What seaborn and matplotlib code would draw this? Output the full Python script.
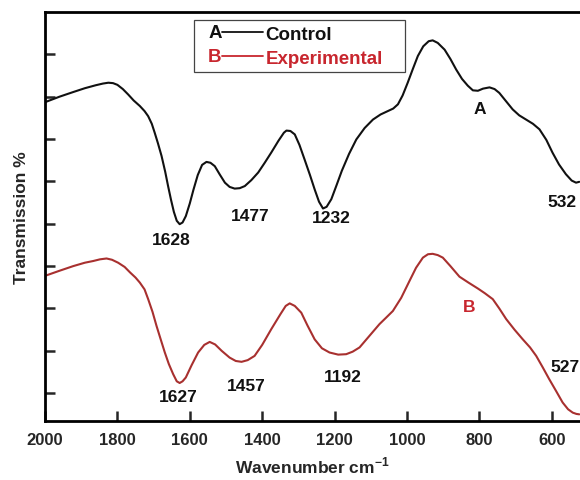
import matplotlib
matplotlib.use("Agg")
import matplotlib.pyplot as plt
import seaborn as sns
import pandas as pd
from matplotlib.legend_handler import HandlerBase
from matplotlib.lines import Line2D
from matplotlib.text import Text

# values (wavenumber, transmission)
wn_control = [2000, 1960, 1922, 1890, 1860, 1840, 1825, 1812, 1800, 1785, 1770, 1755,
              1738, 1725, 1715, 1705, 1697, 1688, 1678, 1668, 1660, 1652, 1644, 1636,
              1628, 1620, 1611, 1600, 1590, 1578, 1566, 1554, 1543, 1531, 1517, 1503,
              1490, 1476, 1462, 1448, 1430, 1411, 1393, 1375, 1355, 1340, 1333, 1322,
              1310, 1297, 1283, 1268, 1255, 1243, 1232, 1222, 1209, 1195, 1180, 1160,
              1140, 1117, 1094, 1073, 1053, 1038, 1025, 1012, 998, 984, 970, 955, 940,
              929, 915, 896, 880, 864, 848, 832, 818, 804, 790, 772, 758, 745, 727, 708,
              690, 671, 652, 634, 615, 598, 580, 561, 545, 533, 524]
tr_control = [78.7, 80.0, 81.1, 82.0, 82.7, 83.1, 83.3, 83.2, 82.8, 81.8, 80.5, 79.1,
              77.8, 76.6, 75.4, 73.6, 71.5, 69.0, 66.0, 62.3, 58.9, 55.7, 52.8, 50.7,
              49.9, 50.3, 51.8, 54.8, 58.0, 61.5, 63.9, 64.6, 64.4, 63.6, 61.6, 59.7,
              58.7, 58.3, 58.4, 58.9, 60.3, 62.1, 64.4, 66.8, 69.6, 71.5, 72.0, 71.9,
              71.1, 68.6, 65.2, 61.5, 58.1, 55.2, 53.6, 54.0, 55.8, 59.0, 62.5, 66.5,
              69.9, 72.6, 74.6, 75.8, 76.6, 77.2, 78.2, 80.3, 83.3, 86.5, 89.6, 91.9, 93.1,
              93.3, 92.7, 91.1, 88.9, 86.4, 84.2, 82.6, 81.5, 81.4, 81.9, 82.2, 81.8, 80.9,
              79.0, 77.0, 75.6, 74.6, 73.6, 72.3, 69.8, 66.8, 64.0, 61.7, 60.2, 59.7, 59.9]

wn_exp = [2000, 1960, 1922, 1890, 1867, 1848, 1830, 1815, 1798, 1780, 1765, 1750,
          1738, 1725, 1715, 1703, 1692, 1680, 1669, 1658, 1646, 1636, 1628, 1620,
          1611, 1595, 1577, 1560, 1545, 1530, 1512, 1490, 1473, 1457, 1440, 1421,
          1400, 1375, 1350, 1335, 1324, 1310, 1292, 1275, 1255, 1235, 1214, 1190,
          1168, 1150, 1131, 1105, 1076, 1058, 1039, 1016, 993, 975, 956, 942, 929,
          915, 901, 880, 855, 830, 804, 785, 763, 745, 726, 703, 680, 660, 643, 625,
          607, 588, 570, 555, 542, 532, 524]
tr_exp = [37.7, 38.9, 40.0, 40.8, 41.2, 41.6, 41.8, 41.5, 40.8, 39.8, 38.5, 37.3,
          36.1, 34.5, 32.2, 29.2, 25.9, 22.6, 19.6, 16.9, 14.5, 12.8, 12.4, 12.8,
          13.7, 16.6, 19.6, 21.4, 22.1, 21.5, 20.0, 18.4, 17.6, 17.4, 17.8, 18.8,
          21.4, 25.1, 28.6, 30.6, 31.2, 30.6, 29.0, 26.0, 22.7, 20.6, 19.6, 19.1,
          19.2, 19.8, 20.8, 23.4, 26.3, 27.8, 29.4, 32.5, 36.5, 39.6, 42.0, 42.8, 42.9,
          42.6, 42.0, 40.0, 37.5, 36.1, 34.7, 33.6, 32.2, 30.0, 27.5, 25.0, 22.7, 20.8,
          18.8, 16.1, 13.3, 10.5, 7.8, 6.2, 5.4, 5.1, 5.0]

peak_labels_a = ["1628", "1477", "1232", "532", "A"]
peak_labels_b = ["1627", "1457", "1192", "527", "B"]
# label anchor points (wavenumber, transmission)
label_pos_a = [(1650, 46.3), (1432, 52.0), (1208, 51.5), (571, 55.3), (800, 77.2)]
label_pos_b = [(1633, 9.1), (1443, 11.7), (1178, 14.0), (563, 16.4), (827, 30.5)]

df = pd.concat([
    pd.DataFrame({"wn": wn_control, "tr": tr_control, "sample": "Control"}),
    pd.DataFrame({"wn": wn_exp, "tr": tr_exp, "sample": "Experimental"}),
])

sns.set_style("ticks")
plt.rcParams["font.family"] = ["Liberation Sans", "DejaVu Sans"]
plt.rcParams["font.weight"] = "bold"
plt.rcParams["mathtext.fontset"] = "custom"
plt.rcParams["mathtext.rm"] = "Liberation Sans:bold"
plt.rcParams["mathtext.bf"] = "Liberation Sans:bold"

black = "#111111"
red_line = "#a8302f"
red_text = "#c8262e"

fig = plt.figure(figsize=(5.8, 4.81), dpi=100)
ax = fig.add_axes([0.0776, 0.1233, 0.9224, 0.8497])

sns.lineplot(data=df, x="wn", y="tr", hue="sample", palette=[black, red_line],
             sort=False, estimator=None, lw=1.5, legend=False, ax=ax)

for txt, (x, y) in zip(peak_labels_a, label_pos_a):
    ax.text(x, y, txt, ha="center", va="center", fontsize=12.5, fontweight="bold",
            color=black, clip_on=False)
for txt, (x, y) in zip(peak_labels_b, label_pos_b):
    ax.text(x, y, txt, ha="center", va="center", fontsize=12.5, fontweight="bold",
            color=red_text if txt == "B" else black, clip_on=False)

ax.set_xlim(2000, 522)
ax.set_ylim(3.5, 100)
ax.set_xticks([2000, 1800, 1600, 1400, 1200, 1000, 800, 600])
ax.set_yticks(range(10, 100, 10))
ax.set_yticklabels([])
ax.tick_params(direction="in", length=7, width=1.8, labelsize=12)
ax.tick_params(axis="x", pad=8)
for s in ["left", "bottom", "top"]:
    ax.spines[s].set_linewidth(2.0)
    ax.spines[s].set_color("black")
ax.spines["right"].set_visible(False)

ax.set_xlabel("Wavenumber cm$^{-1}$", fontsize=12.5, fontweight="bold", labelpad=6)
ax.set_ylabel("Transmission %", fontsize=12.5, fontweight="bold", labelpad=8)


class LegendKey:
    def __init__(self, letter, color):
        self.letter = letter
        self.color = color


class LetterLine(HandlerBase):
    def create_artists(self, legend, orig_handle, xdescent, ydescent, width, height,
                       fontsize, trans):
        y = height / 2 - ydescent
        x0 = -xdescent + 0.45 * fontsize
        t = Text(x0, y, orig_handle.letter, color=orig_handle.color, fontsize=fontsize,
                 fontweight="bold", va="center", ha="left")
        t.set_transform(trans)
        ln = Line2D([x0 + 0.72 * fontsize, width - xdescent], [y, y],
                    color=orig_handle.color, lw=1.3)
        ln.set_transform(trans)
        return [t, ln]


keys = [LegendKey("A", black), LegendKey("B", red_text)]
leg = ax.legend(keys, ["Control", "Experimental"], handler_map={LegendKey: LetterLine()},
                loc="upper left", bbox_to_anchor=(0.2785, 0.97, 0.394, 0.01), mode="expand",
                borderaxespad=0, handlelength=3.4, handletextpad=0.1, labelspacing=0.35,
                borderpad=0.3, fancybox=False, framealpha=1,
                prop={"size": 13.5, "weight": "bold"})
leg.get_frame().set_edgecolor("#444444")
leg.get_frame().set_linewidth(0.9)
for t, c in zip(leg.get_texts(), [black, red_text]):
    t.set_color(c)

fig.savefig("out.png", dpi=100)
